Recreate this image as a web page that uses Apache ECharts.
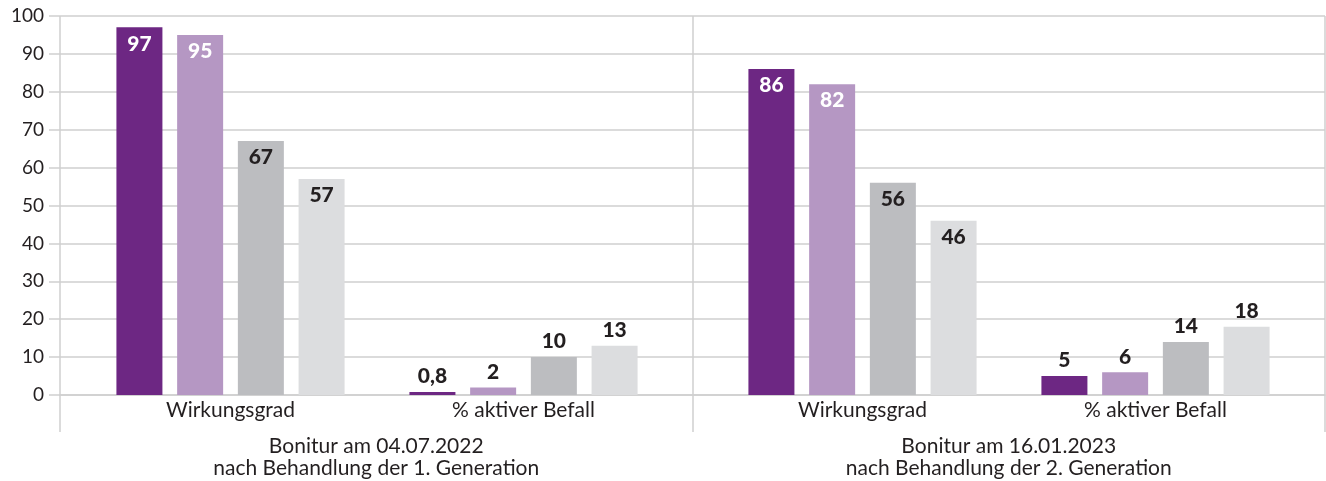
<!DOCTYPE html>
<html>
<head>
<meta charset="utf-8">
<script src="https://cdn.jsdelivr.net/npm/echarts@6/dist/echarts.min.js"></script>
<style>
  html, body { margin: 0; padding: 0; background: #fff; }
  #main { width: 1326px; height: 481px; }
</style>
</head>
<body>
<div id="main"></div>
<script>
// data
var categories = ['Wirkungsgrad', '% aktiver Befall'];
var groups = [
    'Bonitur am 04.07.2022\nnach Behandlung der 1. Generation',
    'Bonitur am 16.01.2023\nnach Behandlung der 2. Generation'
];
var yTicks = [0, 100, 10];   // min, max, interval
// one array per bar colour: [group1 Wirkungsgrad, group1 Befall, group2 Wirkungsgrad, group2 Befall]
var purple = [97, 0.8, 86, 5];
var lilac = [95, 2, 82, 6];
var grey = [67, 10, 56, 14];
var lightGrey = [57, 13, 46, 18];

var colors = ['#6d2783', '#b597c3', '#bcbdc0', '#dcdddf'];
var insideColor = ['#ffffff', '#ffffff', '#231f20', '#231f20'];
var font = 'Lato, "Noto Sans", sans-serif';
var lineColor = '#cfcfcf';

var myChart = echarts.init(document.getElementById('main'));

function makeSeries(values, idx, grid) {
    var part = values.slice(grid * 2, grid * 2 + 2);
    return {
        type: 'bar',
        xAxisIndex: grid + 1,
        yAxisIndex: grid + 1,
        barWidth: 46,
        barGap: '32%',
        itemStyle: { color: colors[idx] },
        silent: true,
        data: part.map(function(v, i) {
            // first category: label inside the bar top; second: above
            var inside = i === 0;
            return {
                value: v,
                label: {
                    show: true,
                    position: inside ? 'insideTop' : 'top',
                    distance: inside ? 6 : 5,
                    color: inside ? insideColor[idx] : '#231f20',
                    fontFamily: font,
                    fontWeight: 900,
                    fontSize: 21,
                    formatter: function(p) { return String(p.value).replace('.', ','); }
                }
            };
        })
    };
}

var series = [];
[purple, lilac, grey, lightGrey].forEach(function(vals, idx) {
    series.push(makeSeries(vals, idx, 0));
    series.push(makeSeries(vals, idx, 1));
});

var hiddenY = function(g) {
    return { type: 'value', gridIndex: g, min: yTicks[0], max: yTicks[1], interval: yTicks[2], show: false };
};
var innerX = function(g) {
    return {
        type: 'category', gridIndex: g, data: categories,
        axisLine: { show: false }, axisTick: { show: false }, splitLine: { show: false },
        axisLabel: { margin: 5, color: '#231f20', fontFamily: font, fontSize: 21 }
    };
};

var option = {
    animation: false,
    grid: [
        { left: 60, right: 1, top: 16, bottom: 86 },
        { left: 84, width: 586, top: 16, bottom: 86 },
        { left: 716, width: 586, top: 16, bottom: 86 }
    ],
    xAxis: [
        {
            type: 'category', gridIndex: 0, data: groups,
            axisLine: { show: true, lineStyle: { color: lineColor, width: 1.5 } },
            axisTick: { show: true, length: 37, lineStyle: { color: lineColor, width: 1.5 } },
            splitLine: { show: true, lineStyle: { color: lineColor, width: 1.5 } },
            axisLabel: { margin: 40, color: '#231f20', fontFamily: font, fontSize: 21, lineHeight: 22 }
        },
        innerX(1),
        innerX(2)
    ],
    yAxis: [
        {
            type: 'value', gridIndex: 0, min: yTicks[0], max: yTicks[1], interval: yTicks[2],
            axisLine: { show: false },
            axisTick: { show: true, length: 11, lineStyle: { color: lineColor, width: 1.5 } },
            splitLine: { show: true, lineStyle: { color: lineColor, width: 1.5 } },
            axisLabel: { margin: 16, color: '#231f20', fontFamily: font, fontSize: 19 }
        },
        hiddenY(1),
        hiddenY(2)
    ],
    series: series
};
myChart.setOption(option);
</script>
</body>
</html>
